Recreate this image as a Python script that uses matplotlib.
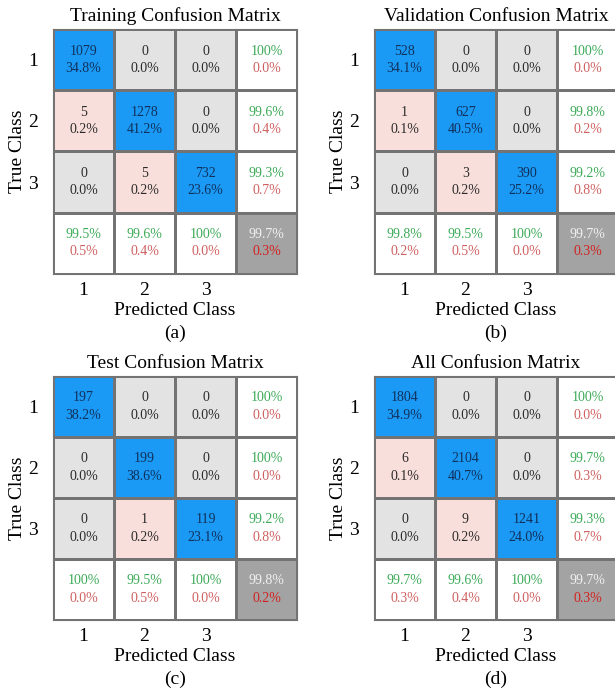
import numpy as np
import matplotlib.pyplot as plt
from matplotlib.colors import ListedColormap

plt.rcParams['font.family'] = ['Liberation Serif', 'DejaVu Serif']

# confusion counts (rows = true class, cols = predicted class)
train_counts = [[1079, 0, 0],
                [5, 1278, 0],
                [0, 5, 732]]
val_counts = [[528, 0, 0],
              [1, 627, 0],
              [0, 3, 390]]
test_counts = [[197, 0, 0],
               [0, 199, 0],
               [0, 1, 119]]
all_counts = [[1804, 0, 0],
              [6, 2104, 0],
              [0, 9, 1241]]

titles = ['Training Confusion Matrix', 'Validation Confusion Matrix',
          'Test Confusion Matrix', 'All Confusion Matrix']
panel_tags = ['(a)', '(b)', '(c)', '(d)']
class_labels = ['1', '2', '3']

# cell colours: 0 diag, 1 off-diag zero, 2 off-diag nonzero, 3 summary, 4 overall
cell_cmap = ListedColormap(['#1a9af5', '#e3e3e3', '#f9dfdb', '#ffffff', '#a3a3a3'])
GREEN = '#3caa58'
RED = '#cf6060'
LABEL_SIZE = 14
CELL_SIZE = 10


def fmt_pct(v):
    if round(v, 1) == 100:
        return '100%'
    return '%.1f%%' % v


def draw_confusion(ax, counts, title, tag):
    cm = np.array(counts, dtype=float)
    n = cm.shape[0]
    total = cm.sum()

    codes = np.full((n + 1, n + 1), 3)
    for i in range(n):
        for j in range(n):
            if i == j:
                codes[i, j] = 0
            elif cm[i, j] == 0:
                codes[i, j] = 1
            else:
                codes[i, j] = 2
    codes[n, n] = 4

    ax.pcolormesh(np.arange(n + 2), np.arange(n + 2), codes, cmap=cell_cmap,
                  vmin=-0.5, vmax=4.5, edgecolors='#737373', linewidth=0.8)
    ax.set_xlim(0, n + 1)
    ax.set_ylim(n + 1, 0)

    dy = 0.14
    for i in range(n):
        for j in range(n):
            col = '#12305c' if i == j else '#2a2a2a'
            ax.text(j + 0.5, i + 0.5 - dy, '%d' % cm[i, j], ha='center', va='center',
                    fontsize=CELL_SIZE, color=col)
            ax.text(j + 0.5, i + 0.5 + dy, fmt_pct(100 * cm[i, j] / total),
                    ha='center', va='center', fontsize=CELL_SIZE, color=col)

    # row summary (recall) and column summary (precision)
    for i in range(n):
        r = 100 * cm[i, i] / cm[i].sum()
        ax.text(n + 0.5, i + 0.5 - dy, fmt_pct(r), ha='center', va='center',
                fontsize=CELL_SIZE, color=GREEN)
        ax.text(n + 0.5, i + 0.5 + dy, fmt_pct(100 - r), ha='center', va='center',
                fontsize=CELL_SIZE, color=RED)
    for j in range(n):
        p = 100 * cm[j, j] / cm[:, j].sum()
        ax.text(j + 0.5, n + 0.5 - dy, fmt_pct(p), ha='center', va='center',
                fontsize=CELL_SIZE, color=GREEN)
        ax.text(j + 0.5, n + 0.5 + dy, fmt_pct(100 - p), ha='center', va='center',
                fontsize=CELL_SIZE, color=RED)
    acc = 100 * np.trace(cm) / total
    ax.text(n + 0.5, n + 0.5 - dy, fmt_pct(acc), ha='center', va='center',
            fontsize=CELL_SIZE, color='#f2f2f2')
    ax.text(n + 0.5, n + 0.5 + dy, fmt_pct(100 - acc), ha='center', va='center',
            fontsize=CELL_SIZE, color='#d42020')

    ax.set_xticks(np.arange(n) + 0.5)
    ax.set_xticklabels(class_labels)
    ax.set_yticks(np.arange(n) + 0.5)
    ax.set_yticklabels(class_labels)
    ax.tick_params(axis='both', length=0, labelsize=LABEL_SIZE)
    ax.tick_params(axis='x', pad=6)
    ax.tick_params(axis='y', pad=11)
    for s in ax.spines.values():
        s.set_color('#737373')
        s.set_linewidth(0.8)

    ax.set_title(title, fontsize=LABEL_SIZE, pad=6)
    ax.set_xlabel('Predicted Class', fontsize=LABEL_SIZE)
    ax.xaxis.set_label_coords(0.5, -0.115)
    ax.set_ylabel('True Class', fontsize=LABEL_SIZE)
    ax.yaxis.set_label_coords(-0.11, 0.5)
    ax.text(0.5, -0.243, tag, transform=ax.transAxes, ha='center', va='center',
            fontsize=LABEL_SIZE)


fig = plt.figure(figsize=(6.15, 6.95), dpi=100)
rects = [[0.0862, 0.6058, 0.3967, 0.3525],
         [0.6081, 0.6058, 0.3967, 0.3525],
         [0.0862, 0.1079, 0.3967, 0.3511],
         [0.6081, 0.1079, 0.3967, 0.3511]]
all_data = [train_counts, val_counts, test_counts, all_counts]

for rect, counts, title, tag in zip(rects, all_data, titles, panel_tags):
    ax = fig.add_axes(rect)
    draw_confusion(ax, counts, title, tag)

fig.savefig('out.png', dpi=100)
